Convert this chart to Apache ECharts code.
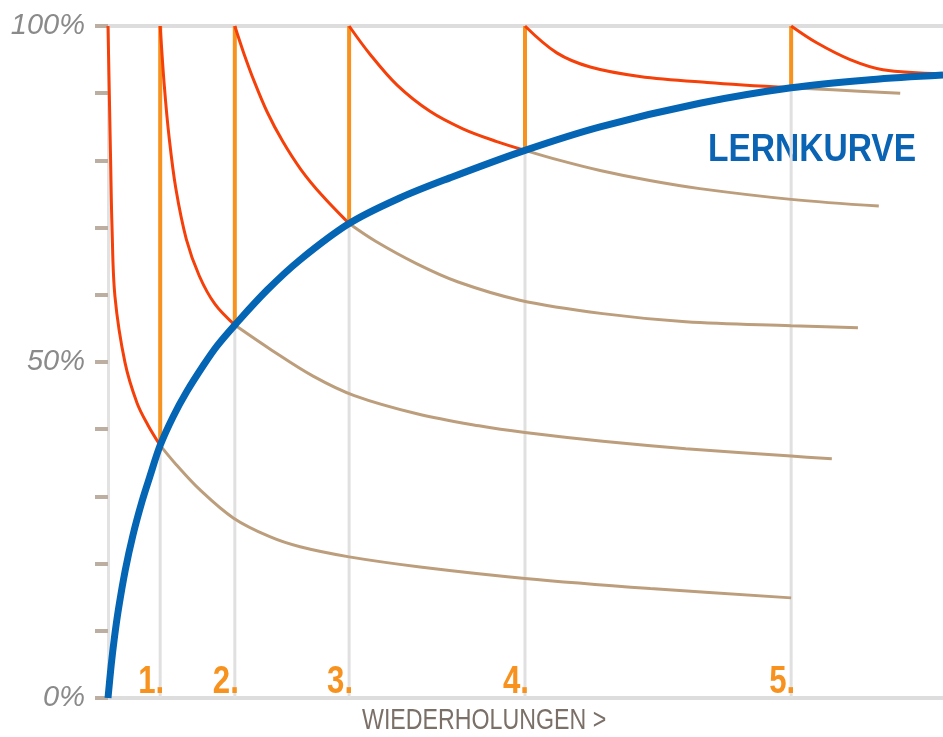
<!DOCTYPE html>
<html>
<head>
<meta charset="utf-8">
<script src="https://cdn.jsdelivr.net/npm/echarts@6/dist/echarts.min.js"></script>
<style>
  html, body { margin: 0; padding: 0; background: #fff; }
  #lernkurve { width: 943px; height: 737px; }
</style>
</head>
<body>
<div id="lernkurve"></div>
<script>
// repetitions on the time axis and the retention value where each one lands
const reps = [1, 2.43, 4.62, 7.99, 13.09];
const repLabels = ["1.", "2.", "3.", "4.", "5."];
const meetVals = [37.6, 55.5, 70.6, 81.5, 90.8];

const yLabelValues = [0, 50, 100];

// learning curve (blue)
const lernkurve = [
  [0, 0], [0.06, 4.8], [0.12, 8.8], [0.2, 13.2], [0.33, 19], [0.48, 24.3],
  [0.65, 29.2], [0.8, 32.9], [1, 37.6], [1.25, 41.9], [1.51, 45.6], [1.82, 49.4],
  [2.09, 52.4], [2.43, 55.5], [3.05, 60.7], [3.68, 65.2], [4.62, 70.6], [5.59, 74.4],
  [6.55, 77.4], [7.99, 81.5], [9.43, 85], [11.34, 88.5], [13.09, 90.8],
  [14.6, 92], [16, 92.7]
];

// forgetting curves, red part until the next repetition
const vergessen0 = [[0, 100], [0.03, 88], [0.05, 80], [0.077, 70.1], [0.134, 59.7], [0.326, 49.9], [0.556, 43.9], [0.766, 40.6], [1, 37.6]];
const vergessen1 = [[1, 100], [1.08, 91], [1.17, 83.5], [1.3, 75.8], [1.5, 68.3], [1.75, 62.8], [2.05, 58.6], [2.43, 55.5]];
const vergessen2 = [[2.43, 100], [2.6, 96], [2.8, 91.8], [3.05, 87.2], [3.35, 82.8], [3.7, 78.6], [4.1, 74.8], [4.62, 70.6]];
const vergessen3 = [[4.62, 100], [5.02, 95.8], [5.54, 91.2], [6.17, 87.3], [6.8, 84.7], [7.45, 82.8], [7.99, 81.5]];
const vergessen4 = [[7.99, 100], [8.6, 96], [9.24, 93.9], [10.19, 92.5], [11.48, 91.6], [13.09, 90.8]];
const vergessen5 = [[13.09, 100], [13.58, 97.5], [14.22, 95], [14.85, 93.5], [16, 92.9]];

// forgetting curves without repetition (tan)
const ohneWdh0 = [[1, 37.6], [1.3, 34.8], [1.76, 31], [2.4, 26.8], [3.1, 24], [3.68, 22.5], [4.62, 21], [5.98, 19.5], [7.99, 17.8], [10.39, 16.3], [13.09, 14.9]];
const ohneWdh1 = [[2.43, 55.5], [3.13, 51.8], [3.93, 47.9], [4.72, 45], [5.92, 42.3], [7.11, 40.5], [7.99, 39.5], [9.48, 38.2], [11.07, 37.1], [13.09, 36], [13.87, 35.6]];
const ohneWdh2 = [[4.62, 70.6], [5.12, 68], [5.92, 64.6], [6.71, 61.9], [7.89, 59.2], [9.48, 57.2], [11.07, 56], [13.09, 55.4], [14.37, 55.1]];
const ohneWdh3 = [[7.99, 81.5], [8.66, 80], [9.43, 78.5], [10.38, 77], [11.34, 75.8], [13.09, 74.2], [14.77, 73.2]];
const ohneWdh4 = [[13.09, 90.8], [13.89, 90.5], [15.18, 90]];

const RED = "#f5400a";
const TAN = "#bc9e7c";
const ORANGE = "#f7921e";
const BLUE = "#0565b5";
const GRAY = "#e0e0e0";
const SANS = "'Liberation Sans', Arial, sans-serif";

function curve(data, color, width) {
  return {
    type: "line",
    data: data,
    smooth: 0.35,
    symbol: "none",
    lineStyle: { color: color, width: width },
    silent: true,
  };
}

function straight(data, color, width) {
  return {
    type: "line",
    data: data,
    symbol: "none",
    lineStyle: { color: color, width: width },
    silent: true,
  };
}

const series = [];
// gray part of the repetition lines (below the learning curve)
reps.forEach((r, i) => series.push(straight([[r, 0], [r, meetVals[i]]], GRAY, 3)));
[ohneWdh0, ohneWdh1, ohneWdh2, ohneWdh3, ohneWdh4].forEach((d) => series.push(curve(d, TAN, 3)));
// orange part of the repetition lines
reps.forEach((r, i) => series.push(straight([[r, meetVals[i]], [r, 100]], ORANGE, 4)));
[vergessen0, vergessen1, vergessen2, vergessen3, vergessen4, vergessen5].forEach((d) => series.push(curve(d, RED, 3)));
series.push(curve(lernkurve, BLUE, 7));

// numbers 1. - 5. above the baseline, condensed
series.push({
  type: "custom",
  data: reps.map((r) => [r, 0]),
  silent: true,
  z: 10,
  renderItem: (params, api) => {
    const p = api.coord([api.value(0), api.value(1)]);
    return {
      type: "text",
      x: p[0] - 9,
      y: p[1] + 4,
      scaleX: 0.82,
      style: {
        text: repLabels[params.dataIndex],
        fill: ORANGE,
        fontFamily: SANS,
        fontWeight: "bold",
        fontSize: 38,
        textAlign: "center",
        textVerticalAlign: "bottom",
      },
    };
  },
});

const chart = echarts.init(document.getElementById("lernkurve"));
chart.setOption({
  animation: false,
  grid: { left: 108, right: 0, top: 26, bottom: 39 },
  xAxis: [
    {
      type: "value",
      min: 0,
      max: 16,
      axisLine: { show: true, lineStyle: { color: "#dddddd", width: 4 } },
      axisTick: { show: false },
      axisLabel: { show: false },
      splitLine: { show: false },
    },
    {
      type: "value",
      position: "top",
      min: 0,
      max: 16,
      axisLine: { show: true, lineStyle: { color: "#dddddd", width: 4 } },
      axisTick: { show: false },
      axisLabel: { show: false },
      splitLine: { show: false },
    },
  ],
  yAxis: {
    type: "value",
    min: 0,
    max: 100,
    interval: 10,
    axisLine: { show: true, lineStyle: { color: "#e2e2e2", width: 3 } },
    axisTick: { show: true, length: 13, lineStyle: { color: "#bcaea0", width: 4 } },
    axisLabel: {
      margin: 23,
      formatter: (v) => (yLabelValues.includes(v) ? v + "%" : ""),
      color: "#8a8a8a",
      fontFamily: SANS,
      fontStyle: "italic",
      fontSize: 29,
    },
    splitLine: { show: false },
  },
  graphic: [
    {
      type: "text",
      x: 708,
      y: 150,
      scaleX: 0.86,
      style: {
        text: "LERNKURVE",
        fill: "#0a63b3",
        fontFamily: SANS,
        fontWeight: "bold",
        fontSize: 39,
        textVerticalAlign: "middle",
      },
    },
    {
      type: "text",
      x: 362,
      y: 721,
      scaleX: 0.8,
      style: {
        text: "WIEDERHOLUNGEN >",
        fill: "#7b7068",
        fontFamily: SANS,
        fontSize: 29,
        textVerticalAlign: "middle",
      },
    },
  ],
  series: series,
});
</script>
</body>
</html>
